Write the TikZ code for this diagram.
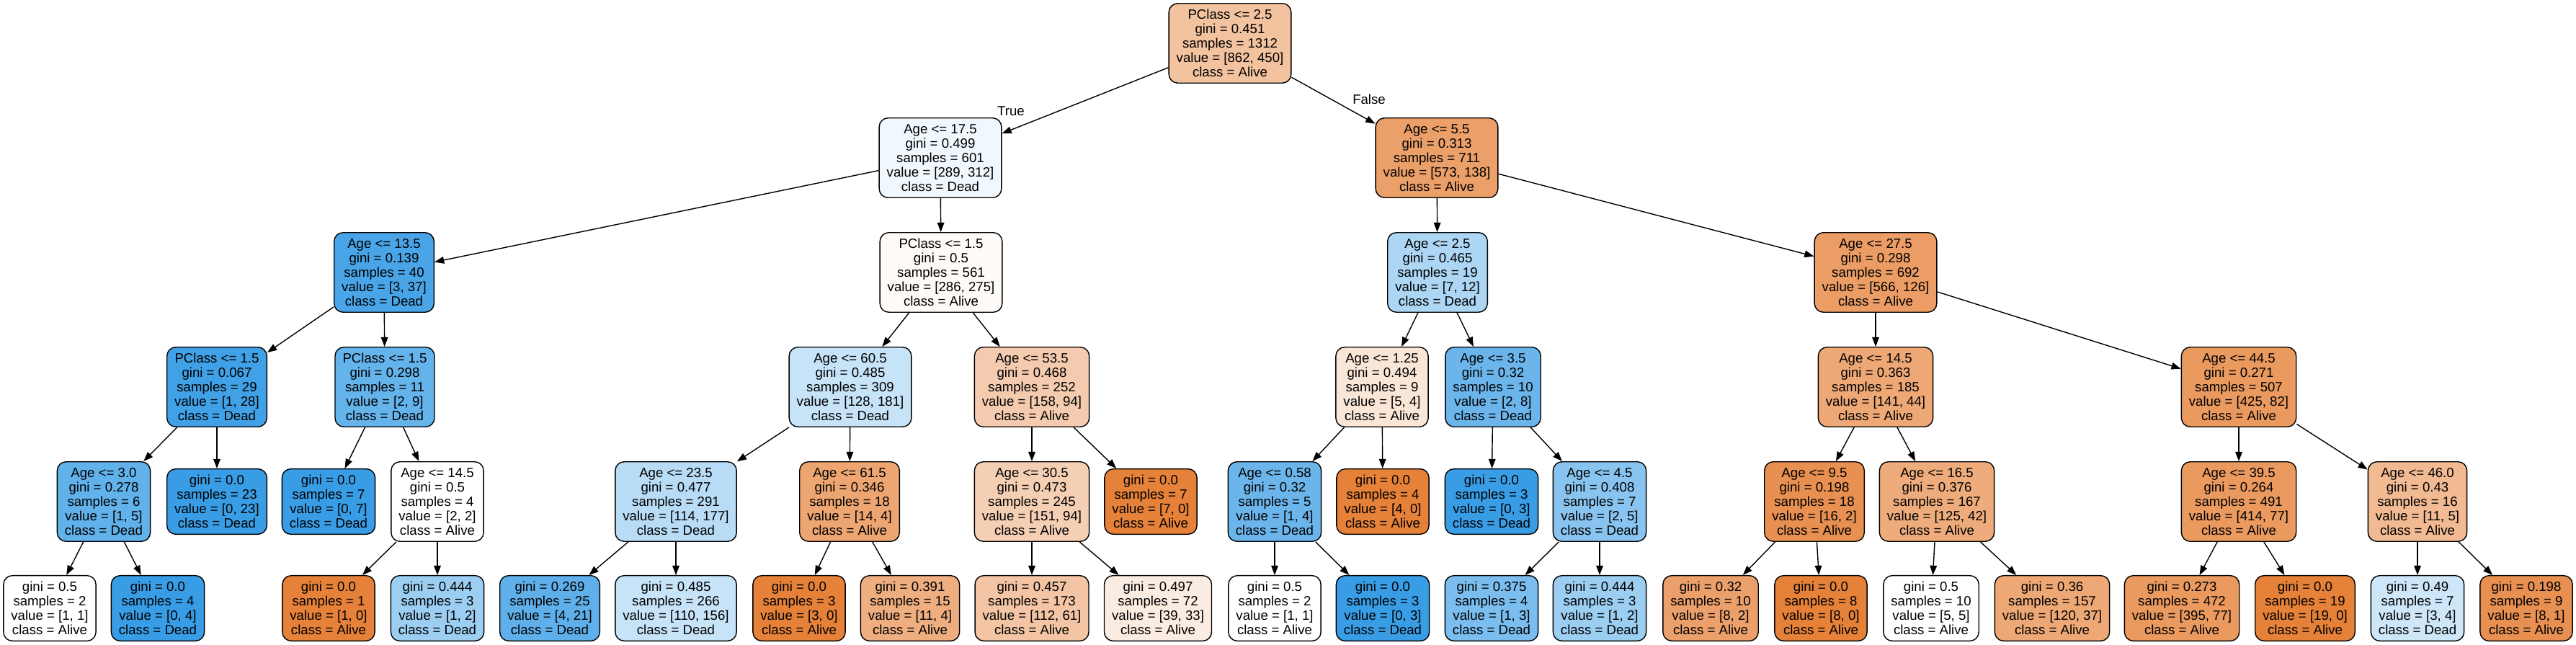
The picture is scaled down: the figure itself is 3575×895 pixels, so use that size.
\documentclass[tikz,border=0pt]{standalone}
\usepackage{fontspec}
\setmainfont{Liberation Sans}
\usetikzlibrary{arrows.meta}

\definecolor{alivecol}{RGB}{229,129,57}
\definecolor{deadcol}{RGB}{57,157,229}

\newcommand{\leaftext}[4]{gini = #1\\samples = #2\\value = [#3]\\class = #4}
\newcommand{\splittext}[5]{#1\\\leaftext{#2}{#3}{#4}{#5}}

\tikzset{
  treebox/.style={draw, line width=0.8pt, rounded corners=7pt, align=center,
    inner xsep=6pt, inner ysep=3pt, font=\fontsize{10.6}{11.4}\selectfont},
  splitnode/.style={treebox, minimum height=62.9pt},
  leafnode/.style={treebox, minimum height=51.6pt},
  alivefill/.style={fill=alivecol!#1!white},
  deadfill/.style={fill=deadcol!#1!white},
  branchlabel/.style={font=\fontsize{10.6}{11.4}\selectfont},
  treeedge/.style={line width=0.8pt, -{Triangle[length=7.5pt,width=5.5pt]}}
}

\begin{document}
\begin{tikzpicture}[x=0.02cm,y=-0.02cm]
  \useasboundingbox (0,0) rectangle (3575,895);

  % depth 0 and 1
  \node[splitnode,alivefill=48] (root) at (1707,60) {\splittext{PClass <= 2.5}{0.451}{1312}{862, 450}{Alive}};
  \node[splitnode,deadfill=7] (L) at (1305,219) {\splittext{Age <= 17.5}{0.499}{601}{289, 312}{Dead}};
  \node[splitnode,alivefill=76] (R) at (1994,219) {\splittext{Age <= 5.5}{0.313}{711}{573, 138}{Alive}};

  % depth 2
  \node[splitnode,deadfill=92] (LL) at (533,378) {\splittext{Age <= 13.5}{0.139}{40}{3, 37}{Dead}};
  \node[splitnode,alivefill=4] (LR) at (1306,378) {\splittext{PClass <= 1.5}{0.5}{561}{286, 275}{Alive}};
  \node[splitnode,deadfill=42] (RL) at (1995,378) {\splittext{Age <= 2.5}{0.465}{19}{7, 12}{Dead}};
  \node[splitnode,alivefill=78] (RR) at (2603,378) {\splittext{Age <= 27.5}{0.298}{692}{566, 126}{Alive}};

  % depth 3
  \node[splitnode,deadfill=96] (LLL) at (301,537) {\splittext{PClass <= 1.5}{0.067}{29}{1, 28}{Dead}};
  \node[splitnode,deadfill=78] (LLR) at (534,537) {\splittext{PClass <= 1.5}{0.298}{11}{2, 9}{Dead}};
  \node[splitnode,deadfill=29] (LRL) at (1180,537) {\splittext{Age <= 60.5}{0.485}{309}{128, 181}{Dead}};
  \node[splitnode,alivefill=41] (LRR) at (1432,537) {\splittext{Age <= 53.5}{0.468}{252}{158, 94}{Alive}};
  \node[splitnode,alivefill=20] (RLL) at (1918,537) {\splittext{Age <= 1.25}{0.494}{9}{5, 4}{Alive}};
  \node[splitnode,deadfill=75] (RLR) at (2072,537) {\splittext{Age <= 3.5}{0.32}{10}{2, 8}{Dead}};
  \node[splitnode,alivefill=69] (RRL) at (2603,537) {\splittext{Age <= 14.5}{0.363}{185}{141, 44}{Alive}};
  \node[splitnode,alivefill=81] (RRR) at (3107,537) {\splittext{Age <= 44.5}{0.271}{507}{425, 82}{Alive}};

  % depth 4
  \node[splitnode,deadfill=80] (LLLL) at (144,696) {\splittext{Age <= 3.0}{0.278}{6}{1, 5}{Dead}};
  \node[leafnode,deadfill=100] (LLLR) at (301,696) {\leaftext{0.0}{23}{0, 23}{Dead}};
  \node[leafnode,deadfill=100] (LLRL) at (456,696) {\leaftext{0.0}{7}{0, 7}{Dead}};
  \node[splitnode,alivefill=0] (LLRR) at (607,696) {\splittext{Age <= 14.5}{0.5}{4}{2, 2}{Alive}};
  \node[splitnode,deadfill=36] (LRLL) at (938,696) {\splittext{Age <= 23.5}{0.477}{291}{114, 177}{Dead}};
  \node[splitnode,alivefill=71] (LRLR) at (1179,696) {\splittext{Age <= 61.5}{0.346}{18}{14, 4}{Alive}};
  \node[splitnode,alivefill=38] (LRRL) at (1432,696) {\splittext{Age <= 30.5}{0.473}{245}{151, 94}{Alive}};
  \node[leafnode,alivefill=100] (LRRR) at (1597,696) {\leaftext{0.0}{7}{7, 0}{Alive}};
  \node[splitnode,deadfill=75] (RLLL) at (1769,696) {\splittext{Age <= 0.58}{0.32}{5}{1, 4}{Dead}};
  \node[leafnode,alivefill=100] (RLLR) at (1919,696) {\leaftext{0.0}{4}{4, 0}{Alive}};
  \node[leafnode,deadfill=100] (RLRL) at (2070,696) {\leaftext{0.0}{3}{0, 3}{Dead}};
  \node[splitnode,deadfill=60] (RLRR) at (2220,696) {\splittext{Age <= 4.5}{0.408}{7}{2, 5}{Dead}};
  \node[splitnode,alivefill=88] (RRLL) at (2518,696) {\splittext{Age <= 9.5}{0.198}{18}{16, 2}{Alive}};
  \node[splitnode,alivefill=66] (RRLR) at (2688,696) {\splittext{Age <= 16.5}{0.376}{167}{125, 42}{Alive}};
  \node[splitnode,alivefill=81] (RRRL) at (3107,696) {\splittext{Age <= 39.5}{0.264}{491}{414, 77}{Alive}};
  \node[splitnode,alivefill=55] (RRRR) at (3355,696) {\splittext{Age <= 46.0}{0.43}{16}{11, 5}{Alive}};

  % depth 5 (all leaves)
  \node[leafnode,alivefill=0] (LLLLL) at (69,844) {\leaftext{0.5}{2}{1, 1}{Alive}};
  \node[leafnode,deadfill=100] (LLLLR) at (219,844) {\leaftext{0.0}{4}{0, 4}{Dead}};
  \node[leafnode,alivefill=100] (LLRRL) at (456,844) {\leaftext{0.0}{1}{1, 0}{Alive}};
  \node[leafnode,deadfill=50] (LLRRR) at (607,844) {\leaftext{0.444}{3}{1, 2}{Dead}};
  \node[leafnode,deadfill=81] (LRLLL) at (763,844) {\leaftext{0.269}{25}{4, 21}{Dead}};
  \node[leafnode,deadfill=29] (LRLLR) at (938,844) {\leaftext{0.485}{266}{110, 156}{Dead}};
  \node[leafnode,alivefill=100] (LRLRL) at (1109,844) {\leaftext{0.0}{3}{3, 0}{Alive}};
  \node[leafnode,alivefill=64] (LRLRR) at (1263,844) {\leaftext{0.391}{15}{11, 4}{Alive}};
  \node[leafnode,alivefill=46] (LRRLL) at (1432,844) {\leaftext{0.457}{173}{112, 61}{Alive}};
  \node[leafnode,alivefill=15] (LRRLR) at (1607,844) {\leaftext{0.497}{72}{39, 33}{Alive}};
  \node[leafnode,alivefill=0] (RLLLL) at (1769,844) {\leaftext{0.5}{2}{1, 1}{Alive}};
  \node[leafnode,deadfill=100] (RLLLR) at (1919,844) {\leaftext{0.0}{3}{0, 3}{Dead}};
  \node[leafnode,deadfill=67] (RLRRL) at (2070,844) {\leaftext{0.375}{4}{1, 3}{Dead}};
  \node[leafnode,deadfill=50] (RLRRR) at (2220,844) {\leaftext{0.444}{3}{1, 2}{Dead}};
  \node[leafnode,alivefill=75] (RRLLL) at (2374,844) {\leaftext{0.32}{10}{8, 2}{Alive}};
  \node[leafnode,alivefill=100] (RRLLR) at (2527,844) {\leaftext{0.0}{8}{8, 0}{Alive}};
  \node[leafnode,alivefill=0] (RRLRL) at (2680,844) {\leaftext{0.5}{10}{5, 5}{Alive}};
  \node[leafnode,alivefill=69] (RRLRR) at (2848,844) {\leaftext{0.36}{157}{120, 37}{Alive}};
  \node[leafnode,alivefill=81] (RRRLL) at (3028,844) {\leaftext{0.273}{472}{395, 77}{Alive}};
  \node[leafnode,alivefill=100] (RRRLR) at (3199,844) {\leaftext{0.0}{19}{19, 0}{Alive}};
  \node[leafnode,deadfill=25] (RRRRL) at (3355,844) {\leaftext{0.49}{7}{3, 4}{Dead}};
  \node[leafnode,alivefill=88] (RRRRR) at (3506,844) {\leaftext{0.198}{9}{8, 1}{Alive}};

  \foreach \a/\b in {root/L,root/R,L/LL,L/LR,R/RL,R/RR,
      LL/LLL,LL/LLR,LR/LRL,LR/LRR,RL/RLL,RL/RLR,RR/RRL,RR/RRR,
      LLL/LLLL,LLL/LLLR,LLR/LLRL,LLR/LLRR,LRL/LRLL,LRL/LRLR,LRR/LRRL,LRR/LRRR,
      RLL/RLLL,RLL/RLLR,RLR/RLRL,RLR/RLRR,RRL/RRLL,RRL/RRLR,RRR/RRRL,RRR/RRRR,
      LLLL/LLLLL,LLLL/LLLLR,LLRR/LLRRL,LLRR/LLRRR,LRLL/LRLLL,LRLL/LRLLR,
      LRLR/LRLRL,LRLR/LRLRR,LRRL/LRRLL,LRRL/LRRLR,RLLL/RLLLL,RLLL/RLLLR,
      RLRR/RLRRL,RLRR/RLRRR,RRLL/RRLLL,RRLL/RRLLR,RRLR/RRLRL,RRLR/RRLRR,
      RRRL/RRRLL,RRRL/RRRLR,RRRR/RRRRL,RRRR/RRRRR}
    \draw[treeedge] (\a) -- (\b);

  \node[branchlabel] (truelbl) at (1403,154) {True};
  \node[branchlabel] (falselbl) at (1900,138) {False};

\end{tikzpicture}
\end{document}
